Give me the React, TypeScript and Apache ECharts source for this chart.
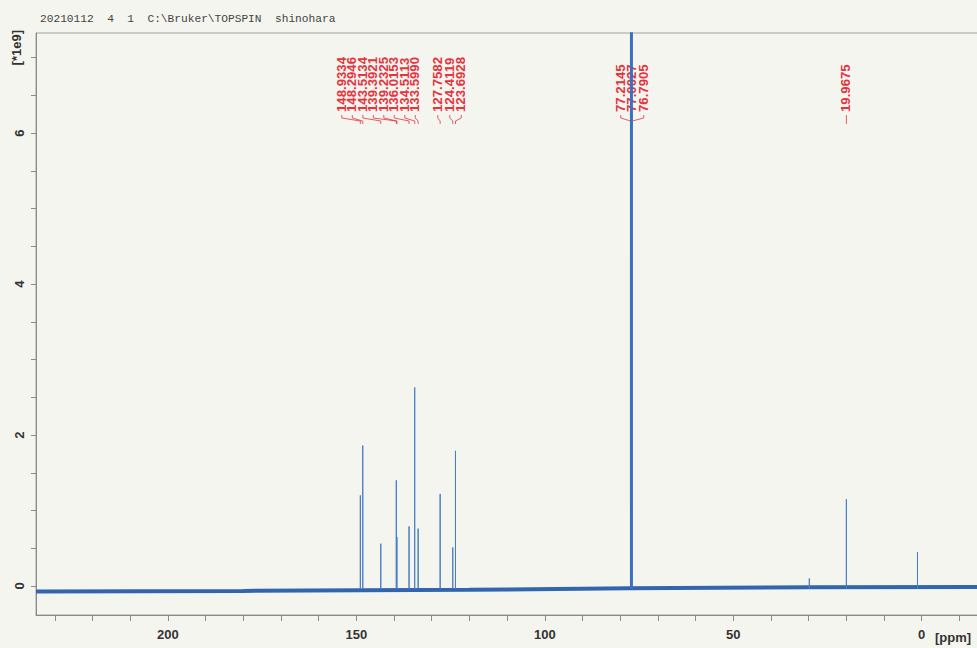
import React, { useEffect, useRef } from "react";
import * as echarts from "echarts";

// ---- data (ppm, intensity in units of 1e9) ----
const peakPpm = [148.9334, 148.2946, 143.5134, 139.3921, 139.2325, 136.0153, 134.5113, 133.599, 127.7582, 124.4119, 123.6928, 29.8, 19.9675, 1.1];
const peakHeight = [1.2, 1.86, 0.56, 1.4, 0.65, 0.79, 2.63, 0.76, 1.22, 0.51, 1.79, 0.1, 1.15, 0.45];
const solventPpm = [77.2145, 77.0027, 76.7905];
const solventHeight = [9.5, 9.8, 9.5];
const baselinePpm = [235, 180, 120, 77.5, 30, -20];
const baselineValue = [-0.073, -0.065, -0.05, -0.03, -0.018, -0.012];
const peakBase = -0.04;

// peak-picking labels
const labelText = ["148.9334", "148.2946", "143.5134", "139.3921", "139.2325", "136.0153", "134.5113", "133.5990", "127.7582", "124.4119", "123.6928", "77.2145", "77.0027", "76.7905", "19.9675"];
const labelPeak = [148.9334, 148.2946, 143.5134, 139.3921, 139.2325, 136.0153, 134.5113, 133.599, 127.7582, 124.4119, 123.6928, 77.2145, 77.0027, 76.7905, 19.9675];
// annotation layout: where each label column sits (ppm)
const labelAnchor = [153.85, 151.06, 148.28, 145.49, 142.71, 139.92, 137.14, 134.35, 128.38, 125.2, 122.15, 79.84, 76.79, 73.74, 19.9675];

// ticks
const xTickValues = [230, 220, 210, 200, 190, 180, 170, 160, 150, 140, 130, 120, 110, 100, 90, 80, 70, 60, 50, 40, 30, 20, 10, 0, -10];
const xLabelValues = [200, 150, 100, 50, 0];
const yTickValues = [0, 0.5, 1, 1.5, 2, 2.5, 3, 3.5, 4, 4.5, 5, 5.5, 6, 6.5, 7];
const yLabelValues = [0, 2, 4, 6];

const headerText = "20210112\u00a0\u00a04\u00a0\u00a01\u00a0\u00a0C:\\Bruker\\TOPSPIN\u00a0\u00a0shinohara";
const yUnitText = "[*1e9]";
const xUnitText = "[ppm]";

const RED = "#e3343f";
const AXIS = "#8a8a8a";
const FONT = "'Liberation Sans', Arial, sans-serif";

function stickData(ppm: number[], h: number[]) {
  const out: any[] = [];
  ppm.forEach((p, i) => {
    out.push([p, peakBase]);
    out.push([p, h[i]]);
    out.push([p, peakBase]);
    out.push([p, "-"]);
  });
  return out;
}

export default function App() {
  const ref = useRef<HTMLDivElement>(null);
  useEffect(() => {
    if (!ref.current) return;
    const chart = echarts.init(ref.current, null, { renderer: "svg" });
    chart.setOption({
      animation: false,
      backgroundColor: "#f5f5f0",
      grid: { left: 36, right: 1, top: 33, bottom: 33, show: true, borderColor: "#a0a0a0", borderWidth: 1, backgroundColor: "transparent" },
      xAxis: {
        type: "value",
        inverse: true,
        min: -20,
        max: 235,
        splitLine: { show: false },
        axisLine: { show: true, onZero: false, lineStyle: { color: AXIS, width: 1 } },
        axisTick: { show: true, length: 6, customValues: xTickValues, lineStyle: { color: AXIS } },
        axisLabel: { customValues: xLabelValues, margin: 13, fontSize: 13, fontWeight: "bold", color: "#333", fontFamily: FONT },
      },
      yAxis: {
        type: "value",
        min: -0.384,
        max: 7.325,
        splitLine: { show: false },
        axisLine: { show: true, onZero: false, lineStyle: { color: AXIS, width: 1 } },
        axisTick: { show: true, length: 5, customValues: yTickValues, lineStyle: { color: AXIS } },
        axisLabel: { customValues: yLabelValues, rotate: 90, margin: 10, fontSize: 13, fontWeight: "bold", color: "#333", fontFamily: FONT },
      },
      series: [
        {
          type: "line",
          name: "baseline",
          data: baselinePpm.map((p, i) => [p, baselineValue[i]]),
          symbol: "none",
          lineStyle: { color: "#3265ad", width: 4 },
          silent: true,
        },
        {
          type: "line",
          name: "peaks",
          data: stickData(peakPpm, peakHeight),
          symbol: "none",
          connectNulls: false,
          lineStyle: { color: "#4a7ec6", width: 1 },
          clip: true,
        },
        {
          type: "line",
          name: "solvent",
          data: stickData(solventPpm, solventHeight),
          symbol: "none",
          connectNulls: false,
          lineStyle: { color: "#3a70c0", width: 1.4 },
          clip: true,
        },
        {
          type: "custom",
          name: "labels",
          coordinateSystem: "cartesian2d",
          clip: false,
          data: labelText.map((t, i) => [labelAnchor[i], 0]),
          encode: { x: 0, y: 1 },
          renderItem: (params: any, api: any) => {
            const i = params.dataIndex;
            const lx = api.coord([labelAnchor[i], 0])[0];
            const px = api.coord([labelPeak[i], 0])[0];
            return {
              type: "group",
              children: [
                {
                  type: "text",
                  x: lx,
                  y: 112,
                  rotation: Math.PI / 2,
                  scaleX: 1.1,
                  style: { text: labelText[i], fill: RED, fontSize: 12, fontWeight: "bold", fontFamily: FONT, align: "left", verticalAlign: "middle" },
                },
                {
                  type: "polyline",
                  shape: { points: [[lx, 115], [lx, 118], [px, 121], [px, 124]] },
                  style: { stroke: RED, lineWidth: 0.8, fill: null },
                },
              ],
            };
          },
        },
      ],
      graphic: [
        { type: "text", x: 40, y: 19, style: { text: headerText, fill: "#444", fontSize: 11.2, fontFamily: "'Liberation Mono', 'DejaVu Sans Mono', monospace", verticalAlign: "middle", align: "left" } },
        { type: "text", x: 16, y: 30, rotation: Math.PI / 2, style: { text: yUnitText, fill: "#333", fontSize: 13, fontWeight: "bold", fontFamily: FONT, align: "right", verticalAlign: "middle" } },
        { type: "text", x: 935, y: 637, style: { text: xUnitText, fill: "#333", fontSize: 13, fontWeight: "bold", fontFamily: FONT, align: "left", verticalAlign: "middle" } },
      ],
    });
    return () => chart.dispose();
  }, []);
  return (
    <div style={{ position: "fixed", left: 0, top: 0, width: 977, height: 648, overflow: "hidden", background: "#f5f5f0" }}>
      <div ref={ref} style={{ width: 998, height: 648 }} />
    </div>
  );
}
